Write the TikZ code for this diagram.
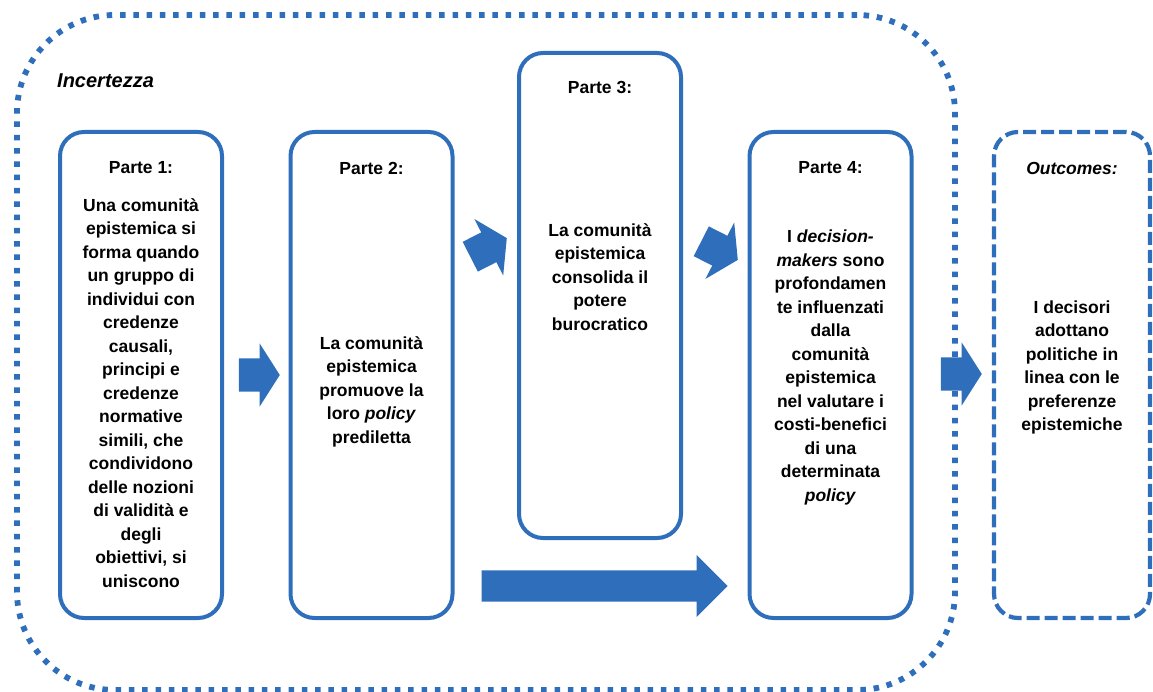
\documentclass[tikz,border=0pt]{standalone}
\usepackage{fontspec}
\setmainfont{Liberation Sans}
\usepackage{xcolor}
\usetikzlibrary{shapes.arrows, positioning}
\definecolor{partblue}{RGB}{46,110,186}

\tikzset{
  frame/.style={draw=partblue, line width=5.8pt, dash pattern=on 5.5pt off 7.8pt,
    rounded corners=98pt, rectangle, inner sep=0pt},
  part/.style={draw=partblue, line width=4pt, rounded corners=24pt, rectangle,
    minimum width=162pt, minimum height=486pt, inner sep=0pt},
  outbox/.style={part, line width=4.2pt, dash pattern=on 13pt off 5pt, minimum width=156pt},
  txt/.style={font=\bfseries\fontsize{17.5pt}{23.5pt}\selectfont, align=center, inner sep=0pt},
  flow/.style={single arrow, fill=partblue, draw=none, anchor=tip,
    inner xsep=0pt, inner ysep=16.5pt, single arrow head extend=15pt,
    single arrow tip angle=115, minimum height=41pt, minimum width=0pt},
  longflow/.style={flow, inner ysep=15.5pt, single arrow head extend=15.5pt,
    single arrow tip angle=90, minimum height=246pt}
}

\begin{document}
\begin{tikzpicture}[x=1pt, y=-1pt]
  \useasboundingbox (0,0) rectangle (1153,692);

  % uncertainty frame
  \node[frame, minimum width=938pt, minimum height=675pt] (incert) at (486,352.5) {};
  \node[txt, anchor=west, font=\bfseries\itshape\fontsize{20pt}{24pt}\selectfont] (inclab) at (57,81) {Incertezza};

  % parts
  \node[part] (p1) at (141,375) {};
  \node[part] (p2) at (371.5,375) {};
  \node[part, minimum height=485pt] (p3) at (600,295.5) {};
  \node[part] (p4) at (830.5,375) {};
  \node[outbox] (p5) at (1072,375) {};

  \node[txt] (h1) at (141,168) {Parte 1:};
  \node[txt] (h2) at (371.5,168) {Parte 2:};
  \node[txt] (h3) at (600,87.5) {Parte 3:};
  \node[txt] (h4) at (830.5,168) {Parte 4:};
  \node[txt] (h5) at (1072,168) {\textit{Outcomes:}};

  \node[txt] (b1) at (141,393) {Una comunità\\epistemica si\\forma quando\\un gruppo di\\individui con\\credenze\\causali,\\principi e\\credenze\\normative\\simili, che\\condividono\\delle nozioni\\di validità e\\degli\\obiettivi, si\\uniscono};
  \node[txt] (b2) at (371.5,391.5) {La comunità\\epistemica\\promuove la\\loro \textit{policy}\\prediletta};
  \node[txt] (b3) at (600,277) {La comunità\\epistemica\\consolida il\\potere\\burocratico};
  \node[txt] (b4) at (830.5,367.5) {I \textit{decision-}\\\textit{makers} sono\\profondamen\\te influenzati\\dalla\\comunità\\epistemica\\nel valutare i\\costi-benefici\\di una\\determinata\\\textit{policy}};
  \node[txt] (b5) at (1072,367.5) {I decisori\\adottano\\politiche in\\linea con le\\preferenze\\epistemiche};

  % arrows
  \node[flow] (a12) at (280,375) {};
  \node[flow, rotate=27] (a23) at (507,238) {};
  \node[flow, rotate=-27] (a34) at (738,260) {};
  \node[flow] (a45) at (982,374) {};
  \node[longflow] (a24) at (728,586) {};
\end{tikzpicture}
\end{document}
